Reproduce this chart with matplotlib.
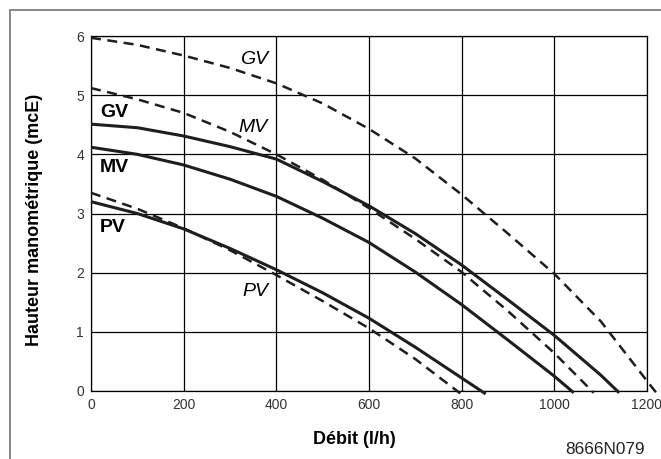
import matplotlib
matplotlib.use("Agg")
import matplotlib.pyplot as plt
from matplotlib.lines import Line2D

plt.rcParams['font.family'] = ['Liberation Sans', 'DejaVu Sans']

# pump curves (solid) : débit [l/h] -> hauteur [mcE]
gv_x = [0, 100, 200, 300, 400, 500, 600, 700, 800, 900, 1000, 1100, 1140]
gv_y = [4.51, 4.45, 4.31, 4.13, 3.92, 3.54, 3.13, 2.66, 2.13, 1.54, 0.94, 0.27, -0.03]
mv_x = [0, 100, 200, 300, 400, 500, 600, 700, 800, 900, 1000, 1042]
mv_y = [4.12, 4.00, 3.82, 3.58, 3.29, 2.92, 2.51, 2.01, 1.46, 0.86, 0.25, -0.03]
pv_x = [0, 100, 200, 300, 400, 500, 600, 700, 800, 852]
pv_y = [3.20, 3.00, 2.74, 2.41, 2.05, 1.66, 1.23, 0.74, 0.22, -0.05]

# dashed curves
gvd_x = [0, 100, 200, 300, 400, 500, 600, 700, 800, 900, 1000, 1100, 1200, 1222]
gvd_y = [5.97, 5.85, 5.67, 5.46, 5.20, 4.86, 4.43, 3.93, 3.32, 2.66, 1.98, 1.18, 0.17, -0.05]
mvd_x = [0, 100, 200, 300, 400, 500, 600, 700, 800, 900, 1000, 1085]
mvd_y = [5.12, 4.93, 4.70, 4.38, 4.00, 3.57, 3.09, 2.57, 2.01, 1.35, 0.64, -0.03]
pvd_x = [0, 100, 200, 300, 400, 500, 600, 700, 797]
pvd_y = [3.35, 3.08, 2.75, 2.38, 1.96, 1.52, 1.06, 0.54, -0.04]

x_ticks = [0, 200, 400, 600, 800, 1000, 1200]
y_ticks = [0, 1, 2, 3, 4, 5, 6]

fig = plt.figure(figsize=(6.61, 4.59), dpi=100)
ax = fig.add_axes([91/661, 68/459, 556/661, 355/459])

col = '#1e1e1e'
for x, y in [(gv_x, gv_y), (mv_x, mv_y), (pv_x, pv_y)]:
    ax.plot(x, y, color=col, lw=2.2, clip_on=False, solid_capstyle='butt',
            solid_joinstyle='round', zorder=3)
for x, y in [(gvd_x, gvd_y), (mvd_x, mvd_y), (pvd_x, pvd_y)]:
    ax.plot(x, y, color=col, lw=1.8, ls=(0, (4, 2.6)), clip_on=False, zorder=3)

ax.set_xlim(0, 1200)
ax.set_ylim(0, 6)
ax.set_xticks(x_ticks)
ax.set_yticks(y_ticks)
ax.grid(True, color='black', lw=0.9)
ax.set_axisbelow(True)
for s in ax.spines.values():
    s.set_linewidth(0.9)
ax.tick_params(length=0, labelsize=10, pad=5, labelcolor='#333333')

# curve names
ax.text(19, 4.70, 'GV', fontsize=14, fontweight='bold', va='center', ha='left')
ax.text(19, 3.78, 'MV', fontsize=14, fontweight='bold', va='center', ha='left')
ax.text(19, 2.77, 'PV', fontsize=14, fontweight='bold', va='center', ha='left')
ax.text(352, 5.61, 'GV', fontsize=14, style='italic', va='center', ha='center')
ax.text(350, 4.45, 'MV', fontsize=14, style='italic', va='center', ha='center')
ax.text(354, 1.69, 'PV', fontsize=14, style='italic', va='center', ha='center')

fig.text(354/661, 1 - 440/459, 'Débit (l/h)', fontsize=13, fontweight='bold',
         ha='center', va='center')
fig.text(35/661, 1 - 220/459, 'Hauteur manométrique (mcE)', fontsize=13,
         fontweight='bold', ha='center', va='center', rotation=90)
fig.text(645/661, 1 - 450/459, '8666N079', fontsize=12.4, ha='right', va='center',
         color='#222222')

# outer frame (left and top edges only visible)
fig.add_artist(Line2D([10/661, 10/661], [0, 1 - 10/459], color='#888888', lw=1.4,
                      transform=fig.transFigure))
fig.add_artist(Line2D([10/661, 1], [1 - 10/459, 1 - 10/459], color='#888888', lw=1.4,
                      transform=fig.transFigure))

fig.savefig('out.png', dpi=100)
